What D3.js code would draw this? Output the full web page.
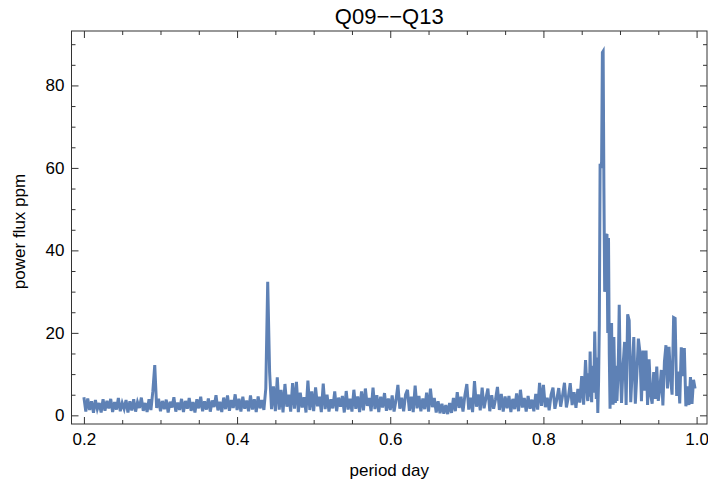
<!DOCTYPE html>
<html>
<head>
<meta charset="utf-8">
<script src="https://cdn.jsdelivr.net/npm/d3@7"></script>
<style>
  html, body { margin: 0; padding: 0; background: #fff; }
  svg { display: block; font-family: "Liberation Sans", Arial, sans-serif; }
</style>
</head>
<body>
<div id="chart"></div>
<script>
// Q09--Q13 periodogram: power vs period
const chartTitle = "Q09\u2212\u2212Q13";
const xLabel = "period day";
const yLabel = "power flux ppm";

const xMajorTicks = [0.2, 0.4, 0.6, 0.8, 1.0];
const xMinorTicks = [0.25, 0.3, 0.35, 0.45, 0.5, 0.55, 0.65, 0.7, 0.75, 0.85, 0.9, 0.95];
const yMajorTicks = [0, 20, 40, 60, 80];
const yMinorTicks = [5, 10, 15, 25, 30, 35, 45, 50, 55, 65, 70, 75, 85, 90];

// low-period part, one value every 0.0025 d starting at 0.200
const segAStart = 0.2, segAStep = 0.0025;
const powerA = [
  4.4, 0.9, 4.1, 1.3, 3.4, 0.6, 3.7, 1.5, 3.0, 0.7,   // 0.200
  3.9, 1.1, 3.5, 1.7, 4.0, 0.8, 3.2, 1.4, 4.2, 1.0,   // 0.225
  3.0, 1.6, 3.7, 0.7, 3.4, 1.2, 3.9, 0.9, 3.2, 1.8,   // 0.250
  4.3, 1.1, 3.0, 0.8, 3.9, 1.3, 5.8, 12.2, 1.8, 4.0,  // 0.275
  1.0, 3.5, 1.5, 3.8, 0.7, 3.3, 1.9, 4.4, 0.9, 3.1,   // 0.300
  1.3, 4.0, 0.8, 3.5, 1.6, 4.2, 1.1, 3.2, 0.7, 3.9,   // 0.325
  1.7, 4.5, 1.0, 3.4, 1.4, 4.1, 0.9, 3.6, 2.0, 4.9,   // 0.350
  1.2, 3.3, 0.8, 4.3, 1.5, 4.8, 1.1, 3.7, 1.8, 5.1,   // 0.375
  1.3, 4.0, 0.9, 4.5, 1.6, 3.6, 1.0, 4.8, 1.4, 3.9,   // 0.400
  0.8, 4.6, 1.7, 3.7, 1.3, 6.5, 32.4, 10.4, 1.5, 7.0, // 0.425
  1.0, 9.2, 1.4, 6.2, 0.7, 7.6, 2.1, 5.0, 0.9, 7.8,   // 0.450
  1.6, 8.1, 0.8, 5.5, 1.9, 4.4, 0.7, 8.4, 1.3, 5.8,   // 0.475
  1.0, 6.8, 2.2, 4.5, 0.8, 7.7, 1.5, 5.0, 0.9, 3.9,   // 0.500
  1.7, 5.8, 1.0, 4.3, 2.1, 4.7, 0.7, 5.9, 1.4, 4.0,   // 0.525
  0.9, 6.2, 1.6, 4.6, 0.8, 5.8, 1.2, 6.5, 2.3, 4.2,   // 0.550
  1.0, 6.7, 1.5, 4.9, 0.8, 4.5, 1.9, 5.4, 1.1, 4.1,   // 0.575
  1.3, 4.8, 0.9, 3.7, 7.4, 1.6, 4.3, 1.0, 5.0, 6.2,   // 0.600
  1.1, 4.5, 0.8, 7.2, 1.7, 4.7, 1.0, 4.1, 1.5, 5.5,   // 0.625
  0.9, 6.5, 2.0, 4.2, 0.7, 3.4, 0.5, 2.8, 0.4, 2.5,   // 0.650
  0.3, 3.0, 0.6, 4.2, 1.0, 5.6, 1.8, 4.5, 0.9, 4.9,   // 0.675
  7.6, 1.4, 4.3, 0.8, 8.3, 2.1, 5.1, 1.2, 6.7, 1.7,   // 0.700
  4.2, 6.5, 1.0, 4.9, 1.6, 3.9, 6.9, 1.3, 5.2, 0.9,   // 0.725
  4.6, 1.7, 4.7, 0.8, 4.0, 1.5, 5.3, 1.0, 6.2, 1.9,   // 0.750
  4.2, 0.9, 4.7, 1.6, 3.8, 1.0, 5.2, 1.4, 7.9, 2.3,   // 0.775
  7.4, 2.0, 4.3, 1.2, 5.0, 6.7, 1.6, 3.9, 6.6, 2.1,   // 0.800
  4.8, 7.9, 1.9, 4.3, 7.8, 2.5, 5.6, 1.8, 6.4, 3.1,   // 0.825
  9.5, 2.6, 13.4, 4.0                                 // 0.850
];

// main peak, one value every 0.001 d starting at 0.858
const segBStart = 0.858, segBStep = 0.001;
const powerB = [
  3.5, 10.2, 4.5, 15.5, 6.0, 3.2, 12.0, 5.5, 9.0, 20.3,    // 0.858
  11.0, 4.0, 14.0, 0.6, 8.0, 22.0, 61.0, 60.0, 61.5, 88.0,  // 0.868
  88.3, 55.0, 30.0, 31.0, 43.6, 44.0, 20.0, 43.0, 15.0, 1.6, // 0.878
  16.0, 22.4, 5.0, 2.6, 19.0, 9.0, 3.0, 12.0, 3.5, 8.0,    // 0.888
  15.0, 26.8, 14.0                                         // 0.898
];

// tail, one value every 0.002 d starting at 0.902
const segCStart = 0.902, segCStep = 0.002;
const powerC = [
  3.0, 12.0, 17.8, 2.5, 24.5, 23.0, 3.2, 11.0, 19.0, 2.8,  // 0.902
  10.0, 18.6, 15.4, 3.4, 15.7, 6.0, 15.7, 2.5, 13.6, 5.0,  // 0.922
  2.8, 10.5, 4.0, 11.8, 3.5, 6.5, 11.0, 2.4, 13.0, 17.0,   // 0.942
  6.5, 16.6, 9.0, 5.0, 23.7, 23.5, 4.7, 10.6, 2.9, 16.5,   // 0.962
  9.5, 16.3, 2.2, 7.0, 2.5, 9.3, 2.8, 8.6, 6.5             // 0.982
];

const width = 708, height = 483;
const plot = { left: 71.5, right: 707, top: 31, bottom: 424 };

const points = [
  ...powerA.map((v, i) => [segAStart + i * segAStep, v]),
  ...powerB.map((v, i) => [segBStart + i * segBStep, v]),
  ...powerC.map((v, i) => [segCStart + i * segCStep, v])
];

const x = d3.scaleLinear().domain([0.1838, 1.0136]).range([plot.left, plot.right]);
const y = d3.scaleLinear().domain([-2.1, 93.2]).range([plot.bottom, plot.top]);

const svg = d3.select("#chart").append("svg")
    .attr("width", width)
    .attr("height", height);

svg.append("defs").append("clipPath")
    .attr("id", "plot-clip")
  .append("rect")
    .attr("x", plot.left)
    .attr("y", plot.top)
    .attr("width", plot.right - plot.left)
    .attr("height", plot.bottom - plot.top);

const line = d3.line()
    .x(d => x(d[0]))
    .y(d => y(d[1]));

svg.append("path")
    .datum(points)
    .attr("clip-path", "url(#plot-clip)")
    .attr("fill", "none")
    .attr("stroke", "#5E81B5")
    .attr("stroke-width", 3)
    .attr("stroke-linejoin", "miter")
    .attr("d", line);

// frame axes, ticks pointing inward like Mathematica
const tickColor = "#333";
function style_axis(g, labelled) {
    g.select(".domain").remove();
    g.selectAll(".tick line").attr("stroke", tickColor);
    g.selectAll(".tick text")
        .attr("fill", labelled ? "#000" : "none")
        .style("font-size", "17px");
}

svg.append("g")
    .attr("transform", `translate(0,${plot.bottom})`)
    .call(d3.axisBottom(x).tickValues(xMajorTicks).tickSize(-7).tickPadding(9).tickFormat(d3.format(".1f")))
    .call(g => style_axis(g, true));
svg.append("g")
    .attr("transform", `translate(0,${plot.bottom})`)
    .call(d3.axisBottom(x).tickValues(xMinorTicks).tickSize(-4).tickFormat(""))
    .call(g => style_axis(g, false));
svg.append("g")
    .attr("transform", `translate(0,${plot.top})`)
    .call(d3.axisTop(x).tickValues(xMajorTicks).tickSize(-7).tickFormat(""))
    .call(g => style_axis(g, false));
svg.append("g")
    .attr("transform", `translate(0,${plot.top})`)
    .call(d3.axisTop(x).tickValues(xMinorTicks).tickSize(-4).tickFormat(""))
    .call(g => style_axis(g, false));

svg.append("g")
    .attr("transform", `translate(${plot.left},0)`)
    .call(d3.axisLeft(y).tickValues(yMajorTicks).tickSize(-7).tickPadding(7).tickFormat(d3.format("d")))
    .call(g => style_axis(g, true));
svg.append("g")
    .attr("transform", `translate(${plot.left},0)`)
    .call(d3.axisLeft(y).tickValues(yMinorTicks).tickSize(-4).tickFormat(""))
    .call(g => style_axis(g, false));
svg.append("g")
    .attr("transform", `translate(${plot.right},0)`)
    .call(d3.axisRight(y).tickValues(yMajorTicks).tickSize(-7).tickFormat(""))
    .call(g => style_axis(g, false));
svg.append("g")
    .attr("transform", `translate(${plot.right},0)`)
    .call(d3.axisRight(y).tickValues(yMinorTicks).tickSize(-4).tickFormat(""))
    .call(g => style_axis(g, false));

svg.append("rect")
    .attr("x", plot.left)
    .attr("y", plot.top)
    .attr("width", plot.right - plot.left)
    .attr("height", plot.bottom - plot.top)
    .attr("fill", "none")
    .attr("stroke", tickColor)
    .attr("stroke-width", 1);

svg.append("text")
    .attr("x", (plot.left + plot.right) / 2)
    .attr("y", 24)
    .attr("text-anchor", "middle")
    .style("font-size", "22px")
    .text(chartTitle);

svg.append("text")
    .attr("x", (plot.left + plot.right) / 2)
    .attr("y", 476)
    .attr("text-anchor", "middle")
    .style("font-size", "17px")
    .text(xLabel);

svg.append("text")
    .attr("transform", `translate(25,${(plot.top + plot.bottom) / 2 + 4}) rotate(-90)`)
    .attr("text-anchor", "middle")
    .style("font-size", "17px")
    .text(yLabel);
</script>
</body>
</html>
